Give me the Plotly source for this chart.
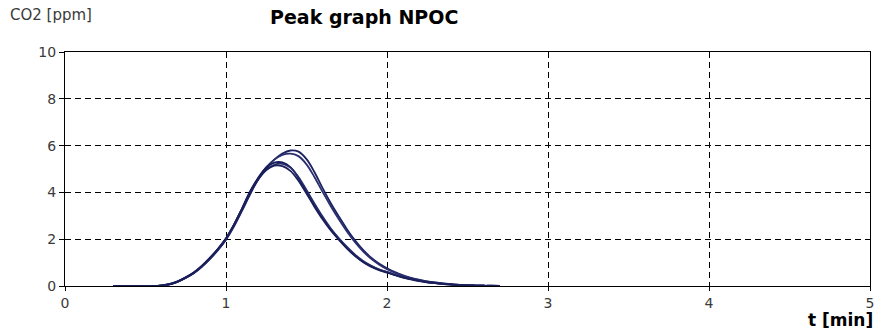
import plotly.graph_objects as go

# time axis [min]
t = [0.30, 0.35, 0.40, 0.45, 0.50, 0.55, 0.60, 0.65, 0.70, 0.75, 0.80, 0.85, 0.90, 0.95,
     1.00, 1.05, 1.10, 1.15, 1.20, 1.25, 1.30, 1.35, 1.40, 1.45, 1.50, 1.55, 1.60, 1.65,
     1.70, 1.75, 1.80, 1.85, 1.90, 1.95, 2.00, 2.05, 2.10, 2.15, 2.20, 2.25, 2.30, 2.35,
     2.40, 2.45, 2.50, 2.55, 2.60, 2.65, 2.70]

# CO2 [ppm] for each injection
run1 = [0, 0, 0, 0, 0, 0, 0.02, 0.07, 0.18, 0.34, 0.54, 0.82, 1.15, 1.53, 1.98, 2.55, 3.22, 3.92,
        4.55, 5.02, 5.40, 5.66, 5.79, 5.74, 5.42, 4.86, 4.18, 3.55, 2.98, 2.44, 1.96, 1.55, 1.22,
        0.96, 0.76, 0.59, 0.46, 0.35, 0.27, 0.20, 0.15, 0.11, 0.08, 0.05, 0.03, 0.02, 0.01, 0.0, 0.0]
run2 = [0, 0, 0, 0, 0, 0, 0.03, 0.09, 0.20, 0.37, 0.58, 0.86, 1.20, 1.58, 2.03, 2.62, 3.30, 4.00,
        4.62, 5.08, 5.40, 5.60, 5.66, 5.55, 5.20, 4.65, 4.02, 3.42, 2.86, 2.34, 1.88, 1.49, 1.17,
        0.92, 0.72, 0.56, 0.43, 0.33, 0.25, 0.19, 0.14, 0.10, 0.07, 0.05, 0.03, 0.02, 0.01, 0.0, 0.0]
run3 = [0, 0, 0, 0, 0, 0, 0.02, 0.08, 0.19, 0.36, 0.57, 0.85, 1.19, 1.57, 2.02, 2.62, 3.32, 4.05,
        4.62, 5.05, 5.27, 5.28, 5.08, 4.62, 4.02, 3.44, 2.90, 2.42, 2.02, 1.64, 1.31, 1.05, 0.85,
        0.70, 0.59, 0.47, 0.37, 0.29, 0.22, 0.16, 0.12, 0.09, 0.06, 0.04, 0.03, 0.02, 0.01, 0.01, 0.0]
run4 = [0, 0, 0, 0, 0, 0, 0.02, 0.07, 0.18, 0.35, 0.55, 0.83, 1.17, 1.55, 2.00, 2.58, 3.26, 3.97,
        4.55, 4.96, 5.18, 5.22, 5.06, 4.66, 4.10, 3.52, 2.97, 2.47, 2.05, 1.68, 1.35, 1.08, 0.87,
        0.71, 0.60, 0.48, 0.38, 0.30, 0.23, 0.17, 0.13, 0.09, 0.06, 0.04, 0.03, 0.02, 0.01, 0.0, 0.0]
run5 = [0, 0, 0, 0, 0, 0, 0.03, 0.08, 0.20, 0.37, 0.58, 0.86, 1.20, 1.59, 2.04, 2.63, 3.30, 4.00,
        4.56, 4.95, 5.14, 5.12, 4.92, 4.50, 3.95, 3.38, 2.85, 2.38, 1.98, 1.61, 1.29, 1.03, 0.83,
        0.68, 0.57, 0.46, 0.36, 0.28, 0.21, 0.16, 0.12, 0.08, 0.06, 0.04, 0.03, 0.02, 0.01, 0.01, 0.0]

runs = [run1, run2, run3, run4, run5]
colors = ["#1c2260", "#2a3070", "#141a55", "#262c6a", "#1a1f5a"]

x_ticks = [0, 1, 2, 3, 4, 5]
y_ticks = [0, 2, 4, 6, 8, 10]

fig = go.Figure()
for r, c in zip(runs, colors):
    fig.add_trace(go.Scatter(x=t, y=r, mode="lines",
                             line=dict(color=c, width=1.8, shape="spline"),
                             showlegend=False, hoverinfo="skip"))

L, R, T, B = 65, 9, 52, 49
W, H = 883, 335
pw, ph = W - L - R, H - T - B

def px(xp):
    return (xp - L) / pw

def py(yp):
    return (H - B - yp) / ph

tickfont = dict(family="DejaVu Sans", size=14, color="#3a3a3a")
fig.update_layout(
    width=W, height=H,
    margin=dict(l=L, r=R, t=T, b=B),
    paper_bgcolor="white", plot_bgcolor="white",
    xaxis=dict(range=[0, 5], tickvals=x_ticks, ticktext=[str(v) for v in x_ticks],
               showgrid=True, gridcolor="black", gridwidth=1, griddash="6px,4px",
               showline=True, linecolor="black", linewidth=1, mirror=True,
               ticks="outside", ticklen=4, tickcolor="black", tickfont=tickfont,
               zeroline=False, fixedrange=True),
    yaxis=dict(range=[0, 10], tickvals=y_ticks, ticktext=[str(v) for v in y_ticks],
               showgrid=True, gridcolor="black", gridwidth=1, griddash="6px,4px",
               showline=True, linecolor="black", linewidth=1, mirror=True,
               ticks="outside", ticklen=5, tickcolor="black", tickfont=tickfont,
               zeroline=False, fixedrange=True),
    annotations=[
        dict(text="CO2 [ppm]", xref="paper", yref="paper", x=px(8), y=py(15),
             xanchor="left", yanchor="middle", showarrow=False,
             font=dict(family="DejaVu Sans", size=15, color="#3a3a3a")),
        dict(text="<b>Peak graph NPOC</b>", xref="paper", yref="paper", x=px(365), y=py(17),
             xanchor="center", yanchor="middle", showarrow=False,
             font=dict(family="DejaVu Sans", size=19, color="black")),
        dict(text="<b>t [min]</b>", xref="paper", yref="paper", x=px(879), y=py(320),
             xanchor="right", yanchor="middle", showarrow=False,
             font=dict(family="DejaVu Sans", size=17, color="black")),
    ],
)

fig.write_html("out.html", config={"displayModeBar": False},
               post_script="document.body.style.margin='0';document.body.style.overflow='hidden';")
